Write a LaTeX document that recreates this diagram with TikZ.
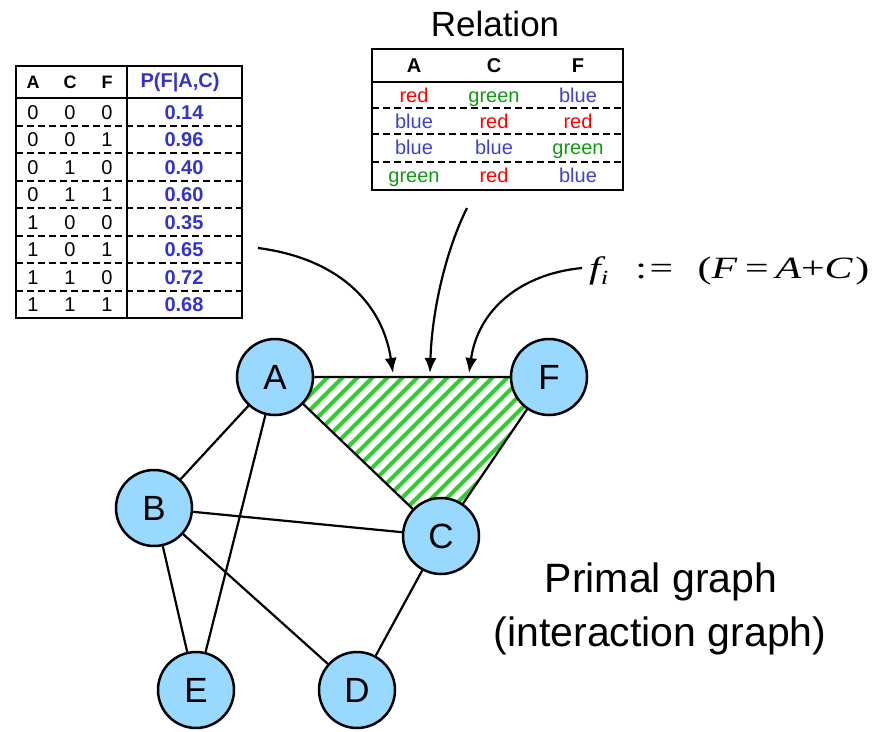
\documentclass[tikz,border=0pt]{standalone}
\usepackage{fontspec}
\setmainfont{Liberation Sans}
\newfontfamily\formfont{Liberation Serif}
\usetikzlibrary{arrows.meta,backgrounds}
\definecolor{nodeblue}{RGB}{153,217,255}
\definecolor{valblue}{RGB}{51,51,204}
\definecolor{relred}{RGB}{255,0,0}
\definecolor{relgreen}{RGB}{17,153,17}
\definecolor{relblue}{RGB}{64,64,204}
\definecolor{stripegreen}{RGB}{51,204,51}
\newcommand{\fs}[1]{\fontsize{#1}{#1}\selectfont}

\begin{document}
\begin{tikzpicture}[x=1pt,y=-1pt,>={Latex[length=15pt,width=12pt]},
  vertex/.style={circle,draw,line width=2.5pt,fill=nodeblue,minimum size=76pt,inner sep=0pt,font=\fs{35}},
  edge/.style={line width=2.2pt},
  frame/.style={line width=2pt},
  rowsep/.style={line width=2pt,dash pattern=on 7pt off 4pt},
  head/.style={font=\fs{18}\bfseries,inner sep=0pt},
  cell/.style={font=\fs{20},inner sep=0pt,anchor=base}]
\useasboundingbox (0,0) rectangle (886,731);

% graph
\node[vertex] (A) at (275,377) {A};
\node[vertex] (F) at (549,377) {F};
\node[vertex] (B) at (154,508) {B};
\node[vertex] (C) at (441,536) {C};
\node[vertex] (E) at (196,690) {E};
\node[vertex] (D) at (357,690) {D};
\begin{scope}[on background layer]
  \begin{scope}
    \clip (A.center) -- (F.center) -- (C.center) -- cycle;
    \foreach \x in {0,15,...,540}
      \draw[stripegreen,line width=4.2pt] (\x,600) -- (\x+300,300);
  \end{scope}
  \draw[edge] (A) -- (F) -- (C) -- (A);
  \draw[edge] (A) -- (B);
  \draw[edge] (A) -- (E);
  \draw[edge] (B) -- (C);
  \draw[edge] (B) -- (E);
  \draw[edge] (B) -- (D);
  \draw[edge] (C) -- (D);
\end{scope}

% CPT table
\draw[frame] (16,66) rectangle (242,318);
\draw[frame] (127,66) -- (127,318);
\draw[frame] (16,98) -- (242,98);
\foreach \y in {125.5,153,...,291}
  \draw[rowsep] (16,\y) -- (242,\y);
\node[head] (cptA) at (33,82) {A};
\node[head] (cptC) at (70,82) {C};
\node[head] (cptF) at (107,82) {F};
\node[head,text=valblue,font=\fs{20}\bfseries] (cptP) at (180,82) {P(F|A,C)};
\foreach \a/\c/\f/\p [count=\i] in {0/0/0/0.14,0/0/1/0.96,0/1/0/0.40,0/1/1/0.60,1/0/0/0.35,1/0/1/0.65,1/1/0/0.72,1/1/1/0.68}{
  \node[cell] (cpta\i) at (33,91.5+27.5*\i) {\a};
  \node[cell] (cptc\i) at (70,91.5+27.5*\i) {\c};
  \node[cell] (cptf\i) at (107,91.5+27.5*\i) {\f};
  \node[cell,text=valblue,font=\fs{20}\bfseries] (cptp\i) at (184,91.5+27.5*\i) {\p};
}

% relation table
\node[font=\fs{35},inner sep=0pt] (reltitle) at (495,24) {Relation};
\draw[frame] (372,49) rectangle (623,190);
\draw[frame] (372,82) -- (623,82);
\foreach \y in {108,134,162}
  \draw[rowsep] (372,\y) -- (623,\y);
\node[head,font=\fs{20}\bfseries] (relA) at (414,66) {A};
\node[head,font=\fs{20}\bfseries] (relC) at (494,66) {C};
\node[head,font=\fs{20}\bfseries] (relF) at (578,66) {F};
\foreach \ca/\a/\cc/\c/\cf/\f/\y [count=\i] in {relred/red/relgreen/green/relblue/blue/102,
    relblue/blue/relred/red/relred/red/128,
    relblue/blue/relblue/blue/relgreen/green/154,
    relgreen/green/relred/red/relblue/blue/182}{
  \node[cell,text=\ca] (rela\i) at (414,\y) {\a};
  \node[cell,text=\cc] (relc\i) at (494,\y) {\c};
  \node[cell,text=\cf] (relf\i) at (578,\y) {\f};
}

% factor and arrows
\node[anchor=base west,inner sep=0pt,font=\formfont\fs{31}] (factor) at (589,278)
  {\scalebox{1.35}[1]{\itshape f\raisebox{-6pt}{\fs{20}i}\upshape\hspace{20pt}:\hspace{2pt}=\hspace{18pt}(\itshape F\upshape\hspace{6pt}=\hspace{5pt}\itshape A\upshape+\itshape C\upshape\hspace{2pt})}};
\coordinate (cptout) at (258,248);
\coordinate (relout) at (467,208);
\coordinate (factorout) at (582,268);
\coordinate (tipL) at (393,373);
\coordinate (tipM) at (430,373);
\coordinate (tipR) at (469,373);
\draw[->,line width=2.2pt] (cptout) .. controls (335,258) and (382,300) .. (tipL);
\draw[->,line width=2.2pt] (relout) .. controls (446,250) and (432,310) .. (tipM);
\draw[->,line width=2.2pt] (factorout) .. controls (520,274) and (478,310) .. (tipR);

% caption
\node[font=\fs{41},inner sep=0pt] (primal) at (661,582) {Primal graph};
\node[font=\fs{41},inner sep=0pt] (interaction) at (660,636) {(interaction graph)};
\end{tikzpicture}
\end{document}
